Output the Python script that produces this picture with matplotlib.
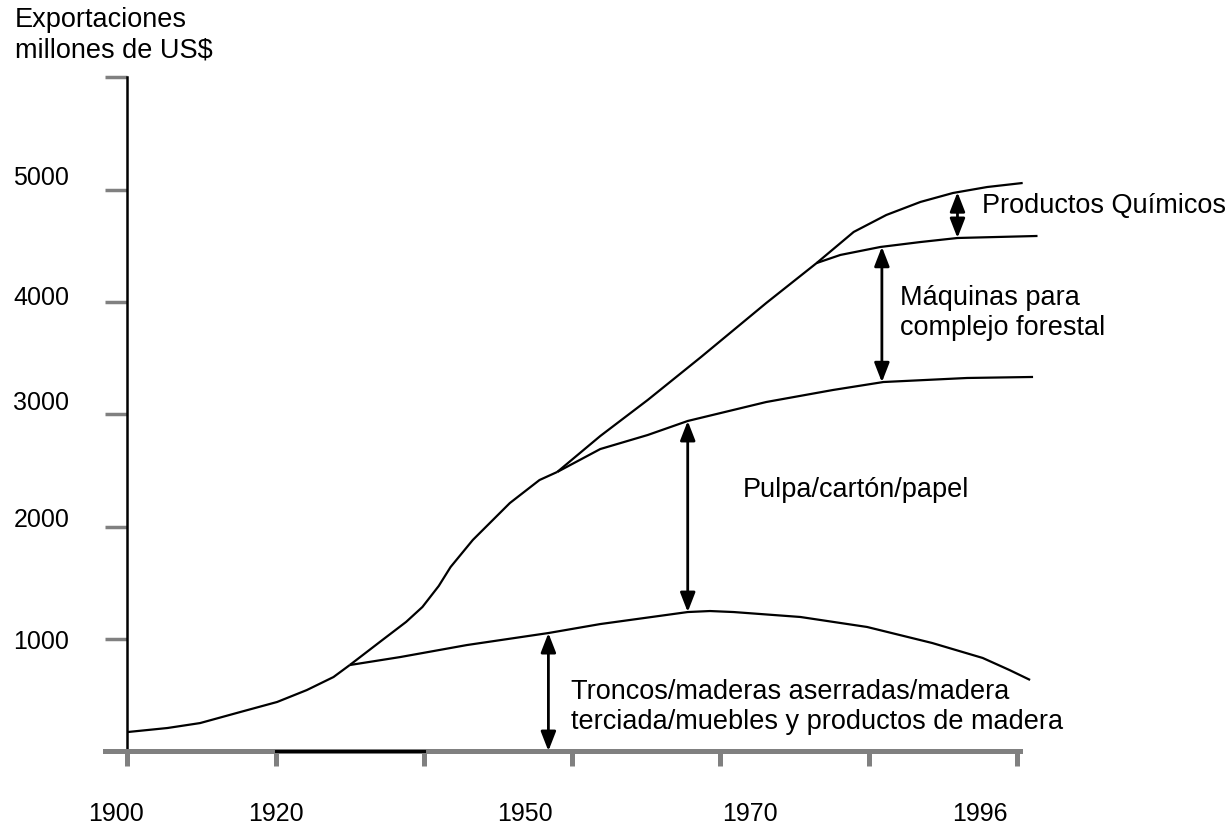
import numpy as np
import matplotlib
matplotlib.use('Agg')
import matplotlib.pyplot as plt

plt.rcParams['font.family'] = ['Liberation Sans', 'DejaVu Sans']

# x is measured in tick steps along the time axis (tick 0 = 1900)
base_x = [0.0, 0.27, 0.49, 0.76, 1.01, 1.21, 1.39, 1.50]
base_y = [169, 205, 249, 347, 437, 543, 659, 766]

troncos_x = [1.50, 1.84, 2.29, 2.84, 3.19, 3.78, 3.93, 4.09, 4.54, 4.99, 5.43, 5.77, 5.95, 6.09]
troncos_y = [766, 837, 944, 1051, 1131, 1238, 1247, 1238, 1194, 1105, 962, 829, 722, 633]

rise_x = [1.50, 1.72, 1.88, 1.99, 2.10, 2.18, 2.33, 2.58, 2.78, 2.90]
rise_y = [766, 989, 1150, 1283, 1470, 1639, 1880, 2209, 2414, 2486]

pulpa_x = [2.90, 3.19, 3.51, 3.78, 4.31, 4.76, 5.10, 5.665, 6.11]
pulpa_y = [2486, 2690, 2815, 2940, 3109, 3216, 3287, 3323, 3332]

maquinas_x = [4.65, 4.81, 5.08, 5.35, 5.60, 6.14]
maquinas_y = [4347, 4419, 4490, 4534, 4570, 4588]

total_x = [2.90, 3.19, 3.51, 3.87, 4.31, 4.65, 4.90, 5.12, 5.35, 5.57, 5.80, 6.04]
total_y = [2486, 2806, 3127, 3510, 3991, 4347, 4624, 4775, 4891, 4971, 5024, 5060]

# where the double arrows stand
arrow_x = [2.84, 3.78, 5.09, 5.60]

year_labels = ['1900', '1920', '1950', '1970', '1996']
year_pos = [-0.08, 1.0, 2.68, 4.20, 5.75]
value_labels = ['1000', '2000', '3000', '4000', '5000']
value_pos = [989, 2076, 3118, 4062, 5131]

GRAY = '#808080'

fig = plt.figure(figsize=(12.29, 8.25), dpi=100)
ax = fig.add_axes([0, 0, 1, 1])
ax.set_xlim(-0.860, 7.432)
ax.set_ylim(-659, 6690)

for xs, ys in [(base_x, base_y), (troncos_x, troncos_y), (rise_x, rise_y),
               (pulpa_x, pulpa_y), (maquinas_x, maquinas_y), (total_x, total_y)]:
    ax.plot(xs, ys, color='black', lw=1.6, solid_capstyle='butt', solid_joinstyle='round')

# arrows between the curves
def at(xs, ys, x):
    return np.interp(x, xs, ys)

spans = [
    (0, at(troncos_x, troncos_y, arrow_x[0])),
    (at(troncos_x, troncos_y, arrow_x[1]), at(pulpa_x, pulpa_y, arrow_x[1])),
    (at(pulpa_x, pulpa_y, arrow_x[2]), at(maquinas_x, maquinas_y, arrow_x[2])),
    (at(maquinas_x, maquinas_y, arrow_x[3]), at(total_x, total_y, arrow_x[3])),
]
for x, (lo, hi) in zip(arrow_x, spans):
    ax.annotate('', xy=(x, hi), xytext=(x, lo),
                arrowprops=dict(arrowstyle='<|-|>,head_length=0.9,head_width=0.35',
                                mutation_scale=13, color='black', lw=2,
                                shrinkA=0, shrinkB=0))

# axes
for s in ['top', 'right']:
    ax.spines[s].set_visible(False)
ax.spines['left'].set_position(('data', 0))
ax.spines['left'].set_bounds(0, 6000)
ax.spines['left'].set_color('black')
ax.spines['left'].set_linewidth(1.8)
ax.spines['bottom'].set_position(('data', 0))
ax.spines['bottom'].set_bounds(-0.15, 6.02)
ax.spines['bottom'].set_color(GRAY)
ax.spines['bottom'].set_linewidth(3.6)
ax.plot([1, 2], [0, 0], color='black', lw=2.2, zorder=3)

ax.xaxis.remove_overlapping_locs = False
ax.set_xticks(range(7))
ax.set_xticklabels([])
ax.set_xticks(year_pos, year_labels, minor=True)
ax.tick_params(axis='x', which='major', direction='out', length=11, width=3.6, color=GRAY)
ax.tick_params(axis='x', which='minor', length=0, pad=37, labelsize=18)

ax.set_yticks([1000, 2000, 3000, 4000, 5000, 6000])
ax.set_yticklabels([])
ax.set_yticks(value_pos, value_labels, minor=True)
ax.tick_params(axis='y', which='major', direction='out', length=16, width=2.5, color=GRAY)
ax.tick_params(axis='y', which='minor', length=0, pad=42, labelsize=18)

W, H = 1229, 825
def fx(px):
    return px / W
def fy(py):
    return 1 - py / H

fs = 19.5
fig.text(fx(15), fy(7), 'Exportaciones\nmillones de US$', fontsize=fs, va='top', ha='left')
fig.text(fx(982), fy(213), 'Productos Químicos', fontsize=fs, va='baseline', ha='left')
fig.text(fx(900), fy(285), 'Máquinas para\ncomplejo forestal', fontsize=fs, va='top', ha='left')
fig.text(fx(743), fy(497), 'Pulpa/cartón/papel', fontsize=fs, va='baseline', ha='left')
fig.text(fx(571), fy(679), 'Troncos/maderas aserradas/madera\nterciada/muebles y productos de madera',
         fontsize=fs, va='top', ha='left')

plt.savefig('out.png', dpi=100)
